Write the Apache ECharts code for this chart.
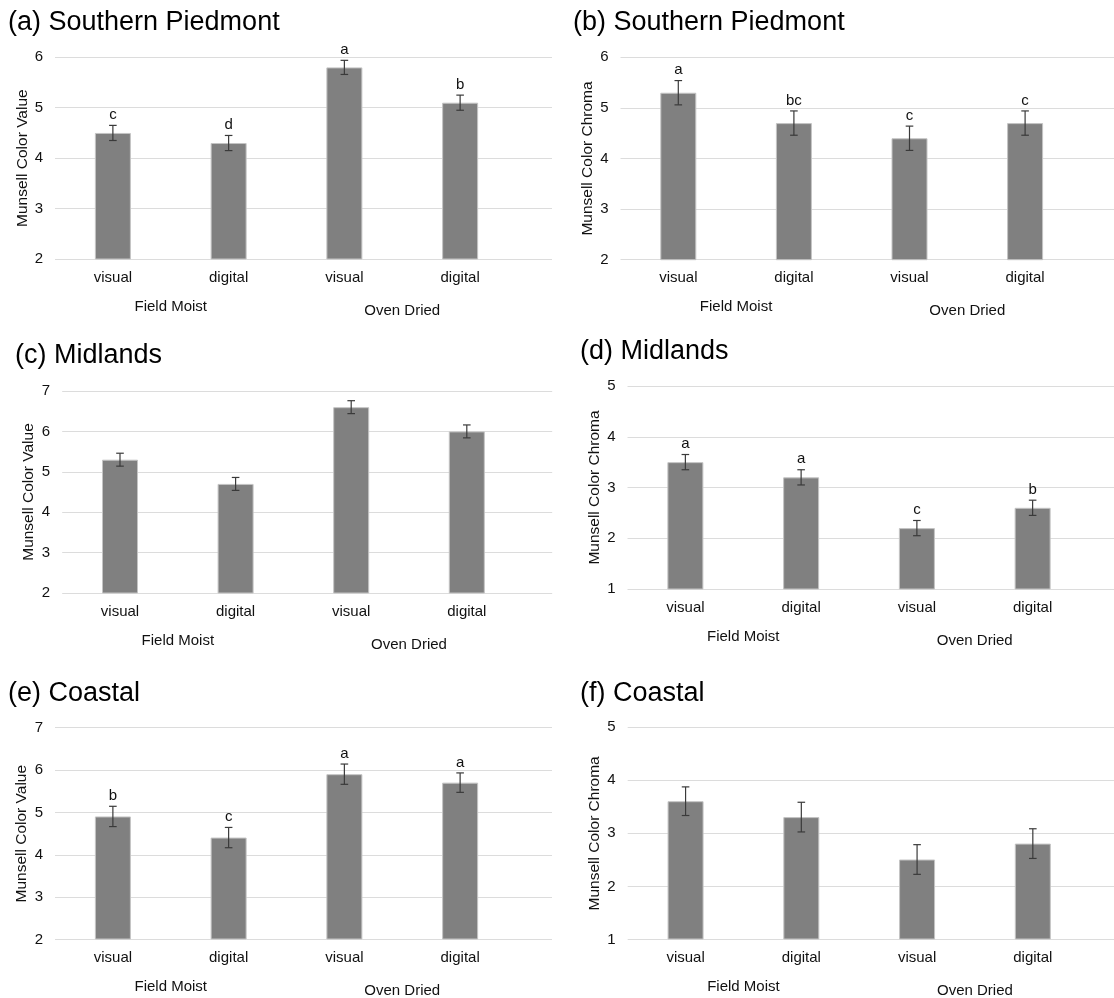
<!DOCTYPE html>
<html>
<head>
<meta charset="utf-8">
<script src="https://cdn.jsdelivr.net/npm/echarts@6/dist/echarts.min.js"></script>
<style>html,body{margin:0;padding:0;background:#fff}#c{width:1114px;height:998px}</style>
</head>
<body>
<div id="c"></div>
<script>
// ---- data ----
const categories = ['visual', 'digital', 'visual', 'digital'];
const groups = ['Field Moist', 'Oven Dried'];
const titles = ['(a) Southern Piedmont', '(b) Southern Piedmont', '(c) Midlands', '(d) Midlands', '(e) Coastal', '(f) Coastal'];
const yNames = ['Munsell Color Value', 'Munsell Color Chroma', 'Munsell Color Value', 'Munsell Color Chroma', 'Munsell Color Value', 'Munsell Color Chroma'];
const yMins = [2, 2, 2, 1, 2, 1];
const yMaxs = [6, 6, 7, 5, 7, 5];

const valuesA = [4.5, 4.3, 5.8, 5.1];
const errorsA = [0.15, 0.15, 0.14, 0.15];
const lettersA = ['c', 'd', 'a', 'b'];

const valuesB = [5.3, 4.7, 4.4, 4.7];
const errorsB = [0.24, 0.24, 0.24, 0.24];
const lettersB = ['a', 'bc', 'c', 'c'];

const valuesC = [5.3, 4.7, 6.6, 6.0];
const errorsC = [0.16, 0.16, 0.16, 0.16];
const lettersC = ['', '', '', ''];

const valuesD = [3.5, 3.2, 2.2, 2.6];
const errorsD = [0.15, 0.15, 0.15, 0.15];
const lettersD = ['a', 'a', 'c', 'b'];

const valuesE = [4.9, 4.4, 5.9, 5.7];
const errorsE = [0.24, 0.24, 0.24, 0.23];
const lettersE = ['b', 'c', 'a', 'a'];

const valuesF = [3.6, 3.3, 2.5, 2.8];
const errorsF = [0.27, 0.28, 0.28, 0.28];
const lettersF = ['', '', '', ''];

const allValues = [valuesA, valuesB, valuesC, valuesD, valuesE, valuesF];
const allErrors = [errorsA, errorsB, errorsC, errorsD, errorsE, errorsF];
const allLetters = [lettersA, lettersB, lettersC, lettersD, lettersE, lettersF];

// ---- layout ----
const layout = [
  {l: 55,    w: 463,   gw: 497,   t: 57.3,  h: 201.7, tx: 8,   ty: 9,   gap: 24},
  {l: 620.5, w: 462.4, gw: 493.5, t: 57.3,  h: 202.4, tx: 573, ty: 9,   gap: 25},
  {l: 62.2,  w: 462.4, gw: 490,   t: 391,   h: 202,   tx: 15,  ty: 342, gap: 25},
  {l: 627.5, w: 463,   gw: 486.5, t: 386,   h: 203,   tx: 580, ty: 338, gap: 25},
  {l: 55,    w: 463,   gw: 497,   t: 727.7, h: 212,   tx: 8,   ty: 680, gap: 25},
  {l: 627.7, w: 463,   gw: 486.3, t: 727,   h: 212.7, tx: 580, ty: 680, gap: 25}
];

const FONT = 'Liberation Sans, Arial, Helvetica, sans-serif';
const TXT = '#111111';

const option = {
  backgroundColor: '#ffffff',
  animation: false,
  textStyle: {fontFamily: FONT},
  title: [], grid: [], xAxis: [], yAxis: [], series: []
};

layout.forEach((L, i) => {
  option.title.push({
    text: titles[i], left: L.tx, top: L.ty, padding: 0,
    textStyle: {fontSize: 27, fontWeight: 'normal', color: '#000', fontFamily: FONT}
  });
  // grid A: full-width grid for gridlines & y labels
  option.grid.push({left: L.l, top: L.t, width: L.gw, height: L.h});
  // grid B: category band
  option.grid.push({left: L.l, top: L.t, width: L.w, height: L.h});
  const gA = 2 * i, gB = 2 * i + 1;

  option.xAxis.push({type: 'value', gridIndex: gA, min: 0, max: 1, show: false});
  option.xAxis.push({
    type: 'category', gridIndex: gB, data: categories, position: 'bottom',
    axisLine: {show: false}, axisTick: {show: false},
    axisLabel: {margin: 11, fontSize: 15, color: TXT, fontFamily: FONT, interval: 0}
  });
  option.xAxis.push({
    type: 'category', gridIndex: gB, data: groups, position: 'bottom',
    axisLine: {show: false}, axisTick: {show: false},
    axisLabel: {
      margin: 40, fontSize: 15, color: TXT, fontFamily: FONT, interval: 0,
      formatter: (v, idx) => idx === 0 ? '{a|' + v + '}' : '{b|' + v + '}',
      rich: {
        a: {fontSize: 15, color: TXT, fontFamily: FONT},
        b: {fontSize: 15, color: TXT, fontFamily: FONT, padding: [4, 0, 0, 0]}
      }
    }
  });

  option.yAxis.push({
    type: 'value', gridIndex: gA, min: yMins[i], max: yMaxs[i], interval: 1,
    name: yNames[i], nameLocation: 'middle', nameGap: L.gap,
    nameTextStyle: {fontSize: 15.5, color: TXT, fontFamily: FONT},
    axisLine: {show: false}, axisTick: {show: false},
    axisLabel: {margin: 12, fontSize: 15, color: TXT, fontFamily: FONT},
    splitLine: {show: true, lineStyle: {color: '#dcdcdc', width: 1}}
  });
  option.yAxis.push({
    type: 'value', gridIndex: gB, min: yMins[i], max: yMaxs[i], interval: 1, show: false,
    splitLine: {show: false}
  });

  const xCat = 3 * i + 1, yB = 2 * i + 1;
  option.series.push({
    type: 'bar', xAxisIndex: xCat, yAxisIndex: yB, barWidth: 36,
    data: allValues[i],
    itemStyle: {color: '#808080', borderColor: '#c4c4c4', borderWidth: 1},
    z: 2
  });
  const letters = allLetters[i];
  option.series.push({
    type: 'custom', xAxisIndex: xCat, yAxisIndex: yB, z: 5,
    data: allValues[i].map((v, k) => [k, v, allErrors[i][k]]),
    renderItem: (params, api) => {
      const x = api.value(0), v = api.value(1), e = api.value(2);
      const top = api.coord([x, v + e]);
      const bot = api.coord([x, v - e]);
      const cw = 3.8;
      const ls = {stroke: '#3a3a3a', lineWidth: 1.2};
      const children = [
        {type: 'line', shape: {x1: top[0], y1: top[1], x2: bot[0], y2: bot[1]}, style: ls},
        {type: 'line', shape: {x1: top[0] - cw, y1: top[1], x2: top[0] + cw, y2: top[1]}, style: ls},
        {type: 'line', shape: {x1: bot[0] - cw, y1: bot[1], x2: bot[0] + cw, y2: bot[1]}, style: ls}
      ];
      const t = letters[params.dataIndex];
      if (t) {
        children.push({
          type: 'text', x: top[0], y: top[1] - 3,
          style: {text: t, fill: '#111', font: '15px ' + FONT, textAlign: 'center', textVerticalAlign: 'bottom'}
        });
      }
      return {type: 'group', children};
    }
  });
});

const chart = echarts.init(document.getElementById('c'), null, {renderer: 'canvas'});
chart.setOption(option);
</script>
</body>
</html>
